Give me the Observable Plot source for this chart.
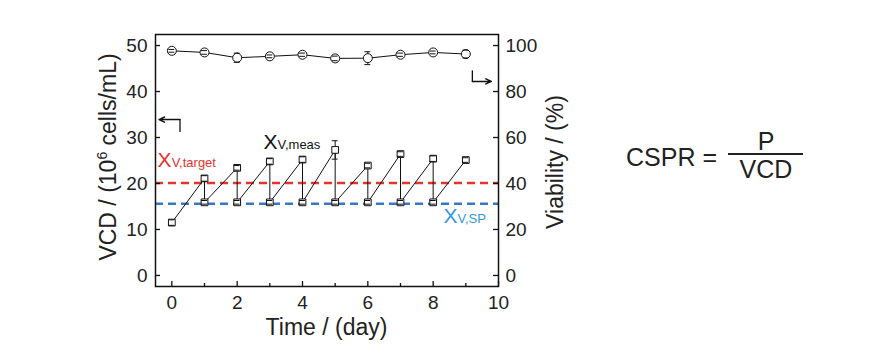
<!DOCTYPE html>
<html>
<head>
<meta charset="utf-8">
<script src="https://cdn.jsdelivr.net/npm/d3@7"></script>
<script src="https://cdn.jsdelivr.net/npm/@observablehq/plot@0.6"></script>
<style>
  html, body { margin: 0; padding: 0; background: #fff; }
  #chart { width: 894px; height: 356px; }
</style>
</head>
<body>
<div id="chart"></div>
<script>
// ---- data ----
const days = [0, 1, 2, 3, 4, 5, 6, 7, 8, 9];
// VCD before each bleed (peak), 10^6 cells/mL
const vcdPeak = [11.5, 21.1, 23.4, 24.8, 25.2, 27.3, 23.9, 26.4, 25.4, 25.1];
const vcdPeakErr = [0.6, 0.6, 0.5, 0.6, 0.6, 2.0, 0.5, 0.5, 0.6, 0.5];
// VCD after bleed (days 1..8)
const bleedDays = [1, 2, 3, 4, 5, 6, 7, 8];
const vcdAfter = [15.9, 15.9, 15.9, 15.9, 15.9, 15.9, 15.9, 15.9];
const vcdAfterErr = [0.4, 0.4, 0.4, 0.4, 0.4, 0.4, 0.4, 0.4];
// viability, %
const viability = [97.7, 97.0, 94.7, 95.3, 96.0, 94.4, 94.5, 96.0, 97.0, 96.3];
const viabilityErr = [0.6, 0.8, 2.0, 0.6, 0.7, 1.0, 2.8, 0.7, 0.6, 1.7];
// set points
const xvTarget = 20.1;
const xvSP = 15.6;
// axis ticks
const xTicks = [0, 2, 4, 6, 8, 10];
const xMinorTicks = [1, 3, 5, 7, 9];
const yTicks = [0, 10, 20, 30, 40, 50];
const viaFactor = 2; // right axis = 2 x left axis

// ---- derived tables ----
const saw = [];
days.forEach((d, i) => {
  saw.push({x: d, y: vcdPeak[i]});
  const j = bleedDays.indexOf(d);
  if (j >= 0) saw.push({x: d, y: vcdAfter[j]});
});
const peaks = days.map((d, i) => ({x: d, y: vcdPeak[i], e: vcdPeakErr[i]}));
const afters = bleedDays.map((d, i) => ({x: d, y: vcdAfter[i], e: vcdAfterErr[i]}));
const squares = peaks.concat(afters);
const via = days.map((d, i) => ({x: d, y: viability[i] / viaFactor, e: viabilityErr[i] / viaFactor}));
const capW = 0.09;

const W = 894, H = 356, mL = 155, mR = 396, mT = 34, mB = 70;
const pw = W - mL - mR, ph = H - mT - mB;
const red = "#e8332c", blueLine = "#3a76c6", blueText = "#3399dd";

const plot = Plot.plot({
  width: W, height: H,
  marginLeft: mL, marginRight: mR, marginTop: mT, marginBottom: mB,
  style: {fontFamily: "'Liberation Sans', Arial, sans-serif", fontSize: "19px", color: "#222", background: "#fff"},
  x: {domain: [-0.5, 10]},
  y: {domain: [-2.4, 52.4]},
  marks: [
    // reference dashed lines
    Plot.ruleY([xvTarget], {stroke: red, strokeWidth: 2.5, strokeDasharray: "8,5"}),
    Plot.ruleY([xvSP], {stroke: blueLine, strokeWidth: 2.5, strokeDasharray: "8,5"}),
    // viability
    Plot.line(via, {x: "x", y: "y", stroke: "#111", strokeWidth: 1}),
    Plot.ruleX(via, {x: "x", y1: d => d.y - d.e, y2: d => d.y + d.e, stroke: "#111", strokeWidth: 1}),
    Plot.dot(via, {x: "x", y: "y", r: 4.5, fill: "#fff", stroke: "#111", strokeWidth: 1}),
    Plot.ruleY(via, {y: d => d.y - d.e, x1: d => d.x - capW, x2: d => d.x + capW, stroke: "#111", strokeWidth: 1}),
    Plot.ruleY(via, {y: d => d.y + d.e, x1: d => d.x - capW, x2: d => d.x + capW, stroke: "#111", strokeWidth: 1}),
    // VCD sawtooth
    Plot.line(saw, {x: "x", y: "y", stroke: "#111", strokeWidth: 1}),
    Plot.ruleX(squares, {x: "x", y1: d => d.y - d.e, y2: d => d.y + d.e, stroke: "#111", strokeWidth: 1}),
    Plot.dot(squares, {x: "x", y: "y", symbol: "square", r: 3.8, fill: "#fff", stroke: "#111", strokeWidth: 1}),
    Plot.ruleY(squares, {y: d => d.y - d.e, x1: d => d.x - capW, x2: d => d.x + capW, stroke: "#111", strokeWidth: 1}),
    Plot.ruleY(squares, {y: d => d.y + d.e, x1: d => d.x - capW, x2: d => d.x + capW, stroke: "#111", strokeWidth: 1}),
    // axes (labels only; ticks drawn inward below)
    Plot.axisX({ticks: xTicks, tickSize: 0, tickPadding: 9, label: null, fontSize: 19}),
    Plot.axisY({anchor: "left", ticks: yTicks, tickSize: 0, tickPadding: 8, label: null, fontSize: 19}),
    Plot.axisY({anchor: "right", ticks: yTicks, tickSize: 0, tickPadding: 7, label: null, fontSize: 19, tickFormat: d => d * viaFactor}),
    // inward ticks
    Plot.tickX(xTicks, {x: d => d, insetTop: ph - 5, stroke: "#111", strokeWidth: 1.3}),
    Plot.tickX(xMinorTicks, {x: d => d, insetTop: ph - 3, stroke: "#111", strokeWidth: 1.3}),
    Plot.tickY(yTicks, {y: d => d, insetRight: pw - 5, stroke: "#111", strokeWidth: 1.3}),
    Plot.tickY(yTicks, {y: d => d, insetLeft: pw - 5, stroke: "#111", strokeWidth: 1.3}),
    Plot.frame({stroke: "#111", strokeWidth: 1.5}),
    // corner arrows indicating axis assignment
    Plot.link([{x1: 0.25, y1: 31.2, x2: 0.25, y2: 33.9}], {x1: "x1", y1: "y1", x2: "x2", y2: "y2", stroke: "#111", strokeWidth: 1.3}),
    Plot.arrow([{x1: 0.25, y1: 33.9, x2: -0.39, y2: 33.9}], {x1: "x1", y1: "y1", x2: "x2", y2: "y2", stroke: "#111", strokeWidth: 1.5, headLength: 6, headAngle: 50}),
    Plot.link([{x1: 9.2, y1: 44.6, x2: 9.2, y2: 42.2}], {x1: "x1", y1: "y1", x2: "x2", y2: "y2", stroke: "#111", strokeWidth: 1.3}),
    Plot.arrow([{x1: 9.2, y1: 42.2, x2: 9.78, y2: 42.2}], {x1: "x1", y1: "y1", x2: "x2", y2: "y2", stroke: "#111", strokeWidth: 1.5, headLength: 6, headAngle: 50})
  ]
});

document.getElementById("chart").appendChild(plot);

// ---- text annotations, axis titles and the formula ----
const sx = plot.scale("x"), sy = plot.scale("y");
const svg = d3.select(plot);
const font = "'Liberation Sans', Arial, sans-serif";

function subLabel(xData, yData, main, sub, color) {
  const t = svg.append("text")
    .attr("x", sx.apply(xData)).attr("y", sy.apply(yData))
    .attr("text-anchor", "start")
    .attr("fill", color).attr("font-family", font);
  t.append("tspan").attr("font-size", 21).text(main);
  t.append("tspan").attr("font-size", 13).text(sub);
}
subLabel(2.82, 27.4, "X", "V,meas", "#111");
subLabel(-0.42, 23.5, "X", "V,target", red);
subLabel(8.33, 11.3, "X", "V,SP", blueText);

// axis titles
svg.append("text")
  .attr("x", mL + pw / 2).attr("y", H - 21)
  .attr("text-anchor", "middle").attr("font-size", 23).attr("fill", "#222").attr("font-family", font)
  .text("Time / (day)");

const vcdT = svg.append("text")
  .attr("transform", `translate(116,${mT + ph / 2 - 3}) rotate(-90)`)
  .attr("text-anchor", "middle").attr("font-size", 23).attr("fill", "#222").attr("font-family", font);
vcdT.append("tspan").text("VCD / (10");
vcdT.append("tspan").attr("font-size", 14).attr("dy", -9).text("6");
vcdT.append("tspan").attr("dy", 9).text(" cells/mL)");

svg.append("text")
  .attr("transform", `translate(563,${mT + ph / 2 + 2}) rotate(-90)`)
  .attr("text-anchor", "middle").attr("font-size", 23).attr("fill", "#222").attr("font-family", font)
  .text("Viability / (%)");

// formula
const fx = 766;
svg.append("text").attr("x", 626).attr("y", 166).attr("text-anchor", "start").attr("font-size", 25).attr("fill", "#222").attr("font-family", font).text("CSPR =");
svg.append("line").attr("x1", 728).attr("x2", 803).attr("y1", 154).attr("y2", 154).attr("stroke", "#222").attr("stroke-width", 2);
svg.append("text").attr("x", fx).attr("y", 150).attr("text-anchor", "middle").attr("font-size", 25).attr("fill", "#222").attr("font-family", font).text("P");
svg.append("text").attr("x", fx).attr("y", 178).attr("text-anchor", "middle").attr("font-size", 25).attr("fill", "#222").attr("font-family", font).text("VCD");
</script>
</body>
</html>
